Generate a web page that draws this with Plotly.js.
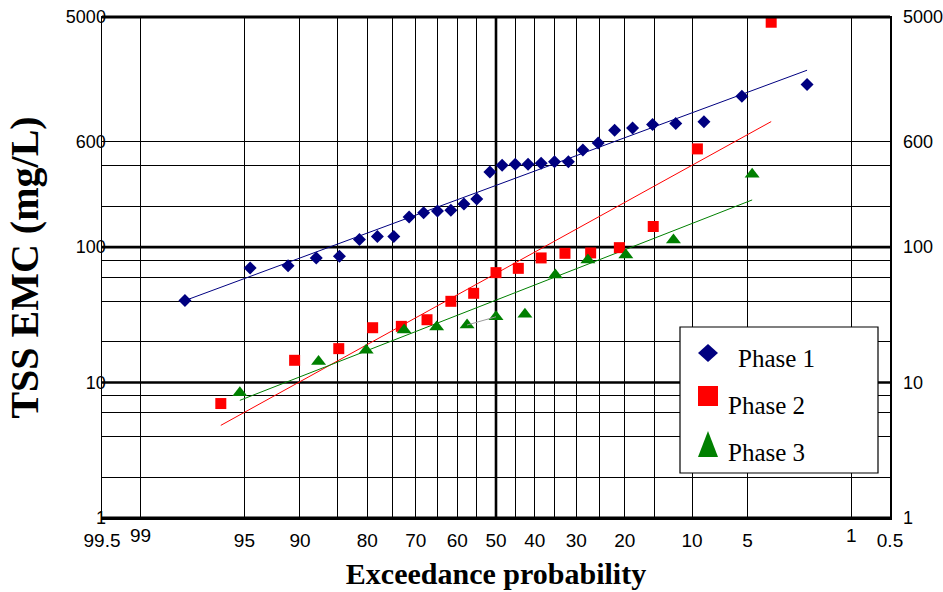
<!DOCTYPE html>
<html>
<head>
<meta charset="utf-8">
<script src="https://cdn.plot.ly/plotly-3.0.1.min.js"></script>
<style>html,body{margin:0;padding:0;background:#fff}#chart{width:943px;height:592px}</style>
</head>
<body>
<div id="chart"></div>
<script>
// ---- data (exceedance probability in %, TSS EMC in mg/L) ----
const phase1Exceed = [97.9, 94.6, 91.3, 88.0, 84.7, 81.4, 78.1, 74.8, 71.5, 68.2, 64.9, 61.6, 58.3, 55.0, 51.6, 48.4, 45.0, 41.7, 38.4, 35.1, 31.8, 28.5, 25.2, 21.9, 18.6, 15.3, 12.0, 8.7, 5.4, 2.1];
const phase1TSS = [40.3, 70.2, 73.0, 83.2, 85.5, 114, 119.6, 119.6, 167, 179, 185, 187, 208, 227, 359, 402, 409, 409, 416, 426, 426, 522, 586, 729, 759, 803, 817, 841, 1300, 1585];

const phase2Exceed = [96.4, 90.6, 84.8, 79.0, 73.2, 67.4, 61.6, 55.8, 50.0, 44.2, 38.4, 32.6, 26.8, 21.0, 15.2, 9.4, 3.6];
const phase2TSS = [7.0, 14.6, 17.8, 25.4, 26.0, 29.1, 39.8, 45.6, 64.8, 69.7, 83.2, 90.0, 90.6, 99.1, 142, 531, 4575];

const phase3Exceed = [95.3, 87.7, 80.2, 72.6, 65.1, 57.5, 50.0, 42.5, 34.9, 27.4, 19.8, 12.3, 4.7];
const phase3TSS = [8.4, 14.3, 17.3, 24.4, 25.7, 26.6, 30.6, 32.0, 62.3, 80.4, 87.6, 113, 345];

// fitted trend lines (end points)
const fit1Exceed = [97.9, 2.1];
const fit1TSS = [40.3, 2023];
const fit2Exceed = [96.4, 3.6];
const fit2TSS = [4.83, 845];
const fit3Exceed = [95.3, 4.7];
const fit3TSS = [7.39, 223];

// axes
const xGridExceed = [99.5, 99, 95, 90, 85, 80, 75, 70, 65, 60, 55, 50, 45, 40, 35, 30, 25, 20, 15, 10, 5, 1, 0.5];
const xGridLabels = ['99.5', '', '95', '90', '', '80', '', '70', '', '60', '', '50', '', '40', '', '30', '', '20', '', '10', '5', '', '0.5'];
const xRaisedExceed = [99, 1];
const xRaisedLabels = ['99', '1'];
const yGridVals = [1, 2, 4, 6, 8, 10, 20, 40, 60, 80, 100, 200, 400, 600, 5000];
const yGridLabels = ['1', '', '', '', '', '10', '', '', '', '', '100', '', '', '600', '5000'];
const yRightVals = [1, 10, 100, 600, 5000];
const yRightLabels = ['1', '10', '100', '600', '5000'];
const seriesNames = ['Phase 1', 'Phase 2', 'Phase 3'];

// ---- normal probability scale ----
function normInv(p) {
  const a = [-3.969683028665376e+01, 2.209460984245205e+02, -2.759285104469687e+02, 1.383577518672690e+02, -3.066479806614716e+01, 2.506628277459239e+00];
  const b = [-5.447609879822406e+01, 1.615858368580409e+02, -1.556989798598866e+02, 6.680131188771972e+01, -1.328068155288572e+01];
  const c = [-7.784894002430293e-03, -3.223964580411365e-01, -2.400758277161838e+00, -2.549732539343734e+00, 4.374664141464968e+00, 2.938163982698783e+00];
  const d = [7.784695709041462e-03, 3.224671290700398e-01, 2.445134137142996e+00, 3.754408661907416e+00];
  const pl = 0.02425, ph = 1 - pl;
  let q, r;
  if (p < pl) {
    q = Math.sqrt(-2 * Math.log(p));
    return (((((c[0]*q+c[1])*q+c[2])*q+c[3])*q+c[4])*q+c[5]) / ((((d[0]*q+d[1])*q+d[2])*q+d[3])*q+1);
  } else if (p <= ph) {
    q = p - 0.5; r = q * q;
    return (((((a[0]*r+a[1])*r+a[2])*r+a[3])*r+a[4])*r+a[5])*q / (((((b[0]*r+b[1])*r+b[2])*r+b[3])*r+b[4])*r+1);
  } else {
    q = Math.sqrt(-2 * Math.log(1 - p));
    return -(((((c[0]*q+c[1])*q+c[2])*q+c[3])*q+c[4])*q+c[5]) / ((((d[0]*q+d[1])*q+d[2])*q+d[3])*q+1);
  }
}
function toZ(exceed) { return normInv(1 - exceed / 100); }

const NAVY = '#000080', RED = '#ff0000', GREEN = '#008000';
const serif = 'Liberation Serif, Times New Roman, serif';
const sans = 'Liberation Sans, Arial, sans-serif';

const traces = [
  {x: fit1Exceed.map(toZ), y: fit1TSS, mode: 'lines', line: {color: NAVY, width: 1}, showlegend: false, hoverinfo: 'skip'},
  {x: fit2Exceed.map(toZ), y: fit2TSS, mode: 'lines', line: {color: RED, width: 1}, showlegend: false, hoverinfo: 'skip'},
  {x: fit3Exceed.map(toZ), y: fit3TSS, mode: 'lines', line: {color: GREEN, width: 1}, showlegend: false, hoverinfo: 'skip'},
  {x: phase3Exceed.slice(5, 7).map(toZ), y: phase3TSS.slice(5, 7), yaxis: 'y2', mode: 'lines', line: {color: '#9a9a9a', width: 1}, showlegend: false, hoverinfo: 'skip'},
  {name: seriesNames[0], x: phase1Exceed.map(toZ), y: phase1TSS, mode: 'markers', marker: {symbol: 'diamond', size: 10, color: NAVY}},
  {name: seriesNames[1], x: phase2Exceed.map(toZ), y: phase2TSS, mode: 'markers', marker: {symbol: 'square', size: 11, color: RED}},
  {name: seriesNames[2], x: phase3Exceed.map(toZ), y: phase3TSS, mode: 'markers', marker: {symbol: 'triangle-up', size: 13, color: GREEN}}
];

const yRange = [0, Math.log10(5000)];

// legend built by hand (box, symbols, labels) in plot-fraction coordinates
const L = 102, R = 890, T = 17, B = 518;
const px = v => (v - L) / (R - L);
const py = v => (B - v) / (B - T);

const shapes = [
  // heavy reference lines
  {type: 'line', xref: 'x', yref: 'paper', x0: toZ(50), x1: toZ(50), y0: 0, y1: 1, line: {color: '#000', width: 2.6}, layer: 'below'},
  {type: 'line', xref: 'paper', yref: 'y', x0: 0, x1: 1, y0: 10, y1: 10, line: {color: '#000', width: 2.6}, layer: 'below'},
  {type: 'line', xref: 'paper', yref: 'y', x0: 0, x1: 1, y0: 100, y1: 100, line: {color: '#000', width: 2.6}, layer: 'below'},
  {type: 'line', xref: 'paper', yref: 'paper', x0: 0, x1: 1, y0: 1, y1: 1, line: {color: '#000', width: 3}},
  {type: 'line', xref: 'paper', yref: 'paper', x0: 0, x1: 1, y0: 0, y1: 0, line: {color: '#000', width: 3}},
  // legend box
  {type: 'rect', xref: 'paper', yref: 'paper', x0: px(680), x1: px(878), y0: py(473), y1: py(327), fillcolor: '#fff', line: {color: '#000', width: 1.2}},
  // legend symbols
  {type: 'path', xref: 'paper', yref: 'paper', xsizemode: 'pixel', ysizemode: 'pixel', xanchor: px(708), yanchor: py(353), path: 'M -10 0 L 0 9 L 10 0 L 0 -9 Z', fillcolor: NAVY, line: {width: 0}},
  {type: 'path', xref: 'paper', yref: 'paper', xsizemode: 'pixel', ysizemode: 'pixel', xanchor: px(708), yanchor: py(396), path: 'M -10 -10 L 10 -10 L 10 10 L -10 10 Z', fillcolor: RED, line: {width: 0}},
  {type: 'path', xref: 'paper', yref: 'paper', xsizemode: 'pixel', ysizemode: 'pixel', xanchor: px(708), yanchor: py(444), path: 'M -10 -13 L 10 -13 L 0 13 Z', fillcolor: GREEN, line: {width: 0}}
];

const annotations = [
  {xref: 'paper', yref: 'paper', x: px(736), y: py(358), xanchor: 'left', yanchor: 'middle', text: seriesNames[0], showarrow: false, font: {family: serif, size: 25, color: '#000'}},
  {xref: 'paper', yref: 'paper', x: px(726), y: py(405), xanchor: 'left', yanchor: 'middle', text: seriesNames[1], showarrow: false, font: {family: serif, size: 25, color: '#000'}},
  {xref: 'paper', yref: 'paper', x: px(726), y: py(452), xanchor: 'left', yanchor: 'middle', text: seriesNames[2], showarrow: false, font: {family: serif, size: 25, color: '#000'}}
];
xRaisedExceed.forEach((e, i) => annotations.push({
  xref: 'x', yref: 'paper', x: toZ(e), y: py(535), xanchor: 'center', yanchor: 'middle',
  text: xRaisedLabels[i], showarrow: false, font: {family: sans, size: 19, color: '#000'}
}));

const layout = {
  width: 943, height: 592,
  margin: {l: L, r: 943 - R, t: T, b: 592 - B, pad: 0},
  paper_bgcolor: '#fff', plot_bgcolor: '#fff',
  showlegend: false,
  xaxis: {
    range: [toZ(99.5), toZ(0.5)], tickvals: xGridExceed.map(toZ), ticktext: xGridLabels,
    ticks: '', showgrid: true, gridcolor: '#000', gridwidth: 1, zeroline: false,
    showline: true, mirror: true, linecolor: '#000', linewidth: 1.5,
    tickfont: {family: sans, size: 19, color: '#000'}, ticklabelstandoff: 5,
    title: {text: '<b>Exceedance probability</b>', font: {family: serif, size: 30, color: '#000'}, standoff: 12},
    automargin: false, fixedrange: true
  },
  yaxis: {
    type: 'log', range: yRange, tickvals: yGridVals, ticktext: yGridLabels,
    ticks: '', showgrid: true, gridcolor: '#000', gridwidth: 1, zeroline: false,
    showline: true, mirror: true, linecolor: '#000', linewidth: 1.5,
    tickfont: {family: sans, size: 18, color: '#000'}, ticklabelstandoff: -9,
    title: {text: '<b>TSS EMC (mg/L)</b>', font: {family: serif, size: 40, color: '#000'}, standoff: 15},
    automargin: false, fixedrange: true
  },
  yaxis2: {
    type: 'log', range: yRange, overlaying: 'y', side: 'right', tickvals: yRightVals, ticktext: yRightLabels,
    ticks: '', showgrid: false, zeroline: false, showline: false,
    tickfont: {family: sans, size: 18, color: '#000'}, ticklabelstandoff: 12, automargin: false, fixedrange: true
  },
  shapes: shapes,
  annotations: annotations
};

Plotly.newPlot('chart', traces, layout, {displayModeBar: false, staticPlot: true});
</script>
</body>
</html>
